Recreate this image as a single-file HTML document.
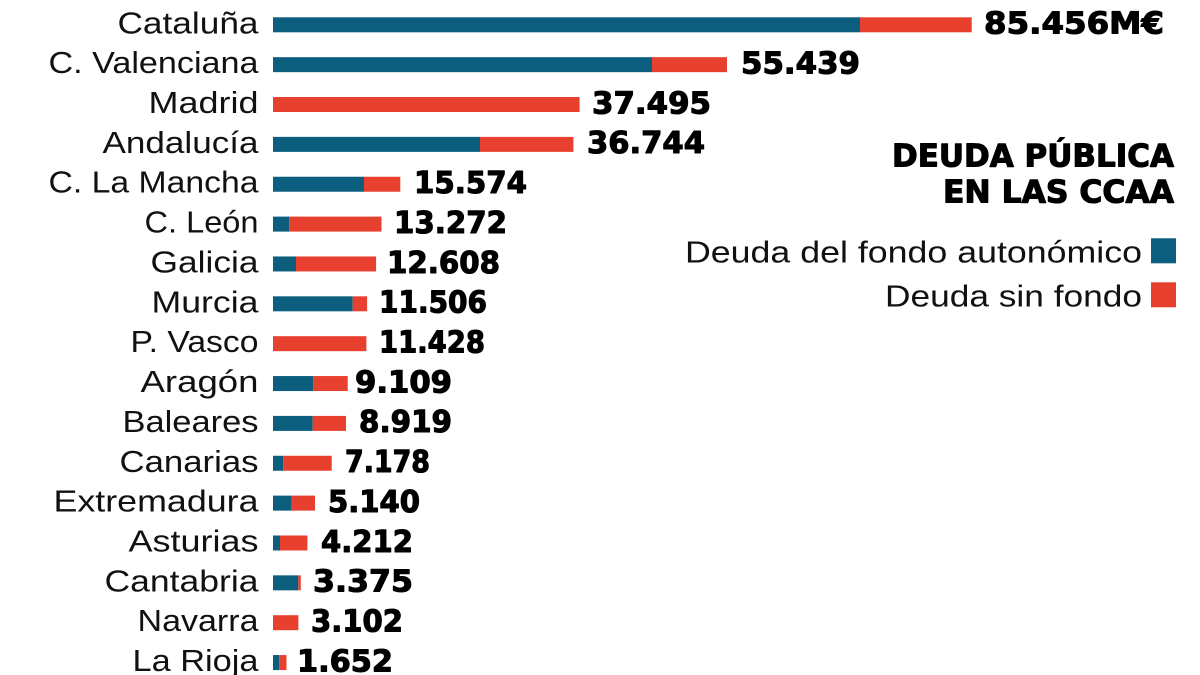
<!DOCTYPE html>
<html>
<head>
<meta charset="utf-8">
<style>
html,body{margin:0;padding:0;background:#fff;}
body{width:1200px;height:675px;overflow:hidden;}
svg{display:block;}
.lb{font-family:"Liberation Sans",Arial,sans-serif;font-size:30.5px;fill:#111;}
.vl{font-family:"DejaVu Sans","Liberation Sans",sans-serif;font-weight:bold;font-size:30px;fill:#000;stroke:#000;stroke-width:1.1px;stroke-linejoin:round;}
.tt{font-family:"DejaVu Sans","Liberation Sans",sans-serif;font-weight:bold;font-size:31px;fill:#000;stroke:#000;stroke-width:1.1px;stroke-linejoin:round;}
.b{fill:#0b5e7e;}
.r{fill:#e8402f;}
</style>
</head>
<body>
<svg width="1200" height="675" viewBox="0 0 1200 675" xmlns="http://www.w3.org/2000/svg">
<!-- Labels -->
<g class="lb" text-anchor="end">
<text x="258.5" y="33.3" textLength="141" lengthAdjust="spacingAndGlyphs">Cataluña</text>
<text x="258.5" y="73.2" textLength="210" lengthAdjust="spacingAndGlyphs">C. Valenciana</text>
<text x="258.5" y="113.0" textLength="110" lengthAdjust="spacingAndGlyphs">Madrid</text>
<text x="258.5" y="152.9" textLength="156" lengthAdjust="spacingAndGlyphs">Andalucía</text>
<text x="258.5" y="192.7" textLength="210" lengthAdjust="spacingAndGlyphs">C. La Mancha</text>
<text x="258.5" y="232.6" textLength="114" lengthAdjust="spacingAndGlyphs">C. León</text>
<text x="258.5" y="272.5" textLength="108" lengthAdjust="spacingAndGlyphs">Galicia</text>
<text x="258.5" y="312.3" textLength="107" lengthAdjust="spacingAndGlyphs">Murcia</text>
<text x="258.5" y="352.2" textLength="128" lengthAdjust="spacingAndGlyphs">P. Vasco</text>
<text x="258.5" y="392.0" textLength="118" lengthAdjust="spacingAndGlyphs">Aragón</text>
<text x="258.5" y="431.9" textLength="136" lengthAdjust="spacingAndGlyphs">Baleares</text>
<text x="258.5" y="471.8" textLength="139" lengthAdjust="spacingAndGlyphs">Canarias</text>
<text x="258.5" y="511.6" textLength="205" lengthAdjust="spacingAndGlyphs">Extremadura</text>
<text x="258.5" y="551.5" textLength="130" lengthAdjust="spacingAndGlyphs">Asturias</text>
<text x="258.5" y="591.3" textLength="154" lengthAdjust="spacingAndGlyphs">Cantabria</text>
<text x="258.5" y="631.2" textLength="121" lengthAdjust="spacingAndGlyphs">Navarra</text>
<text x="258.5" y="671.1" textLength="126" lengthAdjust="spacingAndGlyphs">La Rioja</text>
</g>

<!-- Bars -->
<g>
<rect class="b" x="273" y="17.3" width="587" height="15"/><rect class="r" x="860" y="17.3" width="111.7" height="15"/>
<rect class="b" x="273" y="57.16" width="379" height="15"/><rect class="r" x="652" y="57.16" width="75" height="15"/>
<rect class="r" x="273" y="97.02" width="306.6" height="15"/>
<rect class="b" x="273" y="136.88" width="207" height="15"/><rect class="r" x="480" y="136.88" width="93.4" height="15"/>
<rect class="b" x="273" y="176.74" width="91" height="15"/><rect class="r" x="364" y="176.74" width="36.3" height="15"/>
<rect class="b" x="273" y="216.6" width="16.3" height="15"/><rect class="r" x="289.3" y="216.6" width="92.2" height="15"/>
<rect class="b" x="273" y="256.46" width="23" height="15"/><rect class="r" x="296" y="256.46" width="80.1" height="15"/>
<rect class="b" x="273" y="296.32" width="79.7" height="15"/><rect class="r" x="352.7" y="296.32" width="14.4" height="15"/>
<rect class="r" x="273" y="336.18" width="93.4" height="15"/>
<rect class="b" x="273" y="376.04" width="40.3" height="15"/><rect class="r" x="313.3" y="376.04" width="34.4" height="15"/>
<rect class="b" x="273" y="415.9" width="39.7" height="15"/><rect class="r" x="312.7" y="415.9" width="33.3" height="15"/>
<rect class="b" x="273" y="455.76" width="10.3" height="15"/><rect class="r" x="283.3" y="455.76" width="48.4" height="15"/>
<rect class="b" x="273" y="495.62" width="18.7" height="15"/><rect class="r" x="291.7" y="495.62" width="23.3" height="15"/>
<rect class="b" x="273" y="535.48" width="7" height="15"/><rect class="r" x="280" y="535.48" width="27.4" height="15"/>
<rect class="b" x="273" y="575.34" width="25.3" height="15"/><rect class="r" x="298.3" y="575.34" width="2.5" height="15"/>
<rect class="r" x="273" y="615.2" width="25.4" height="15"/>
<rect class="b" x="273" y="655.06" width="6.3" height="15"/><rect class="r" x="279.3" y="655.06" width="7.2" height="15"/>
</g>

<!-- Values -->
<g class="vl">
<text x="984" y="33.6" textLength="180" lengthAdjust="spacingAndGlyphs">85.456M€</text>
<text x="741" y="73.5" textLength="119" lengthAdjust="spacingAndGlyphs">55.439</text>
<text x="592" y="113.3" textLength="119" lengthAdjust="spacingAndGlyphs">37.495</text>
<text x="587" y="153.2" textLength="118" lengthAdjust="spacingAndGlyphs">36.744</text>
<text x="414" y="193.0" textLength="113" lengthAdjust="spacingAndGlyphs">15.574</text>
<text x="394" y="232.9" textLength="113" lengthAdjust="spacingAndGlyphs">13.272</text>
<text x="387" y="272.8" textLength="113" lengthAdjust="spacingAndGlyphs">12.608</text>
<text x="379" y="312.6" textLength="108" lengthAdjust="spacingAndGlyphs">11.506</text>
<text x="379" y="352.5" textLength="106" lengthAdjust="spacingAndGlyphs">11.428</text>
<text x="355" y="392.3" textLength="97" lengthAdjust="spacingAndGlyphs">9.109</text>
<text x="359" y="432.2" textLength="93" lengthAdjust="spacingAndGlyphs">8.919</text>
<text x="345" y="472.1" textLength="85" lengthAdjust="spacingAndGlyphs">7.178</text>
<text x="328" y="511.9" textLength="92" lengthAdjust="spacingAndGlyphs">5.140</text>
<text x="321" y="551.8" textLength="92" lengthAdjust="spacingAndGlyphs">4.212</text>
<text x="313" y="591.6" textLength="100" lengthAdjust="spacingAndGlyphs">3.375</text>
<text x="311" y="631.5" textLength="92" lengthAdjust="spacingAndGlyphs">3.102</text>
<text x="297" y="671.4" textLength="96" lengthAdjust="spacingAndGlyphs">1.652</text>
</g>

<!-- Title -->
<g class="tt" text-anchor="end">
<text x="1174" y="166.7" textLength="282" lengthAdjust="spacingAndGlyphs">DEUDA PÚBLICA</text>
<text x="1174" y="202.7" textLength="231" lengthAdjust="spacingAndGlyphs">EN LAS CCAA</text>
</g>

<!-- Legend -->
<g class="lb" text-anchor="end">
<text x="1142" y="262.7" textLength="457" lengthAdjust="spacingAndGlyphs">Deuda del fondo autonómico</text>
<text x="1142" y="306.7" textLength="257" lengthAdjust="spacingAndGlyphs">Deuda sin fondo</text>
</g>
<rect class="b" x="1151" y="238.3" width="25" height="25"/>
<rect class="r" x="1151" y="282.3" width="25" height="25"/>
</svg>
</body>
</html>
